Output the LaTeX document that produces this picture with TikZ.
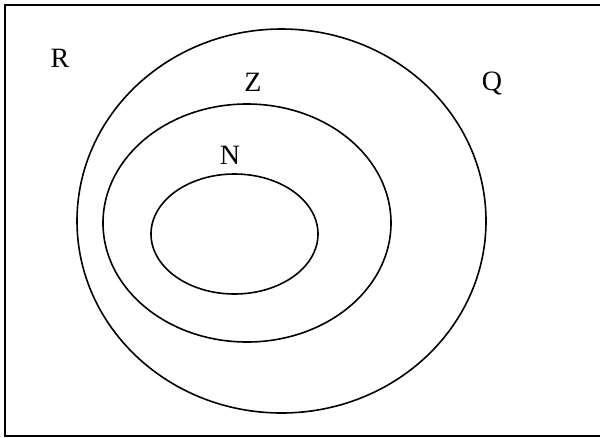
\documentclass[tikz,border=0pt]{standalone}
\usepackage{fontspec}
\setmainfont{Liberation Serif}
\begin{document}
\begin{tikzpicture}[x=1pt,y=-1pt,
  setline/.style={draw=black,line width=1.6pt},
  setlabel/.style={font=\fontsize{28}{32}\selectfont,inner sep=0pt}]
\useasboundingbox (0,0) rectangle (600,437);
\draw[line width=2pt] (610,5) -- (5,5) -- (5,435.5) -- (610,435.5);
\draw[setline] (281.5,221) ellipse [x radius=204.5, y radius=192];
\draw[setline] (247,223) ellipse [x radius=144, y radius=119];
\draw[setline] (234.5,234) ellipse [x radius=83.5, y radius=60];
\node[setlabel] (R) at (60,58) {R};
\node[setlabel] (Z) at (253,82) {Z};
\node[setlabel] (Q) at (492,83) {Q};
\node[setlabel] (N) at (230,155) {N};
\end{tikzpicture}
\end{document}
